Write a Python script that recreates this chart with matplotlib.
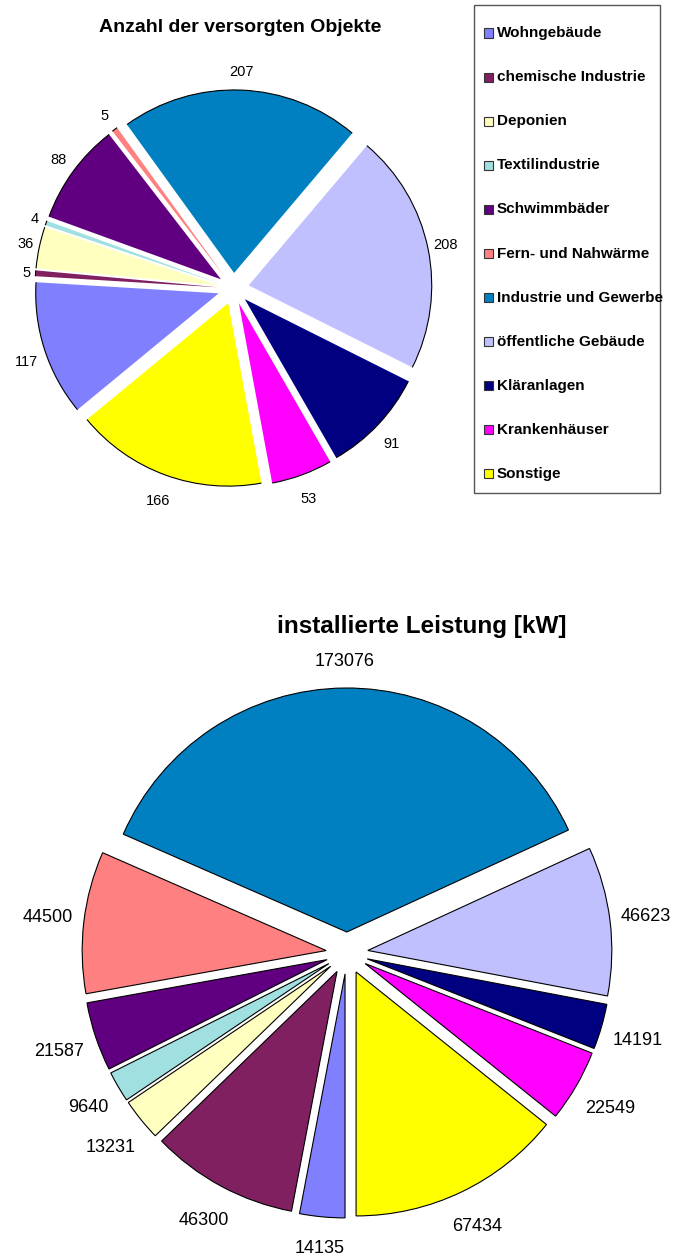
import matplotlib
matplotlib.use('Agg')
import matplotlib.pyplot as plt
from matplotlib.patches import Arc, Rectangle
import numpy as np

plt.rcParams['font.family'] = ['Liberation Sans', 'DejaVu Sans']

# data
categories = ['Wohngebäude', 'chemische Industrie', 'Deponien', 'Textilindustrie',
              'Schwimmbäder', 'Fern- und Nahwärme', 'Industrie und Gewerbe',
              'öffentliche Gebäude', 'Kläranlagen', 'Krankenhäuser', 'Sonstige']
anzahl = [117, 5, 36, 4, 88, 5, 207, 208, 91, 53, 166]
leistung = [14135, 46300, 13231, 9640, 21587, 44500, 173076, 46623, 14191, 22549, 67434]
colors = ['#8080FF', '#802060', '#FFFFC0', '#A0E0E0', '#600080', '#FF8080',
          '#0080C0', '#C0C0FF', '#000080', '#FF00FF', '#FFFF00']

W, H = 675, 1256
fig = plt.figure(figsize=(W / 100, H / 100), dpi=100)


def px_axes(cx, cy, half):
    # square axes placed by pixel centre (origin top left)
    return fig.add_axes([(cx - half) / W, (H - cy - half) / H, 2 * half / W, 2 * half / H])


def draw_pie(ax, values, start, expl, scale, half, fs, gap, drop, outline_all):
    lw = 0.8 if outline_all else 0
    wedges, _ = ax.pie(values, colors=colors, startangle=start, counterclock=False,
                       explode=[expl] * len(values), radius=1,
                       wedgeprops=dict(linewidth=lw, edgecolor='black'))
    if not outline_all:
        # only the outer arc gets a black line
        for w in wedges:
            ax.add_patch(Arc(w.center, 2 * w.r, 2 * w.r, theta1=w.theta1, theta2=w.theta2,
                             color='black', lw=0.8))
    fs_px = fs * 100 / 72.
    for w, v in zip(wedges, values):
        th = np.deg2rad((w.theta1 + w.theta2) / 2)
        tw = len(str(v)) * 0.556 * fs_px / scale
        r = 1 + expl + gap / scale + tw / 2 * abs(np.cos(th)) + 0.95 * fs_px / scale * abs(np.sin(th))
        y = r * np.sin(th) - (drop / scale if np.sin(th) < 0 else 0)
        ax.text(r * np.cos(th), y, str(v), ha='center', va='center', fontsize=fs)
    lim = half / scale
    ax.set_xlim(-lim, lim)
    ax.set_ylim(-lim, lim)
    ax.set_axis_off()
    return wedges


# top pie: Anzahl
ax1 = px_axes(233.5, 288.5, 230)
draw_pie(ax1, anzahl, 219.5, 0.085, 183, 230, 10.5, 3.6, 6, False)
fig.text(240 / W, 1 - 27 / H, 'Anzahl der versorgten Objekte', ha='center', va='center',
         fontsize=14, fontweight='bold')

# bottom pie: Leistung
ax2 = px_axes(347, 953, 320)
draw_pie(ax2, leistung, 270, 0.086, 244, 320, 13, 9, 3, True)
fig.text(422 / W, 1 - 627 / H, 'installierte Leistung [kW]', ha='center', va='center',
         fontsize=17.5, fontweight='bold')

# legend box
fig.add_artist(Rectangle((474 / W, 1 - 493 / H), 186 / W, 488 / H, transform=fig.transFigure,
                         fill=False, edgecolor='#555555', lw=1))
for i, (name, c) in enumerate(zip(categories, colors)):
    y = 33 + i * 44.1
    fig.add_artist(Rectangle((484 / W, 1 - (y + 4.5) / H), 9 / W, 9 / H,
                             transform=fig.transFigure, facecolor=c,
                             edgecolor='#333333', lw=0.8))
    fig.text(497 / W, 1 - y / H, name, ha='left', va='center', fontsize=11,
             fontweight='bold')

fig.savefig('out.png', dpi=100)
